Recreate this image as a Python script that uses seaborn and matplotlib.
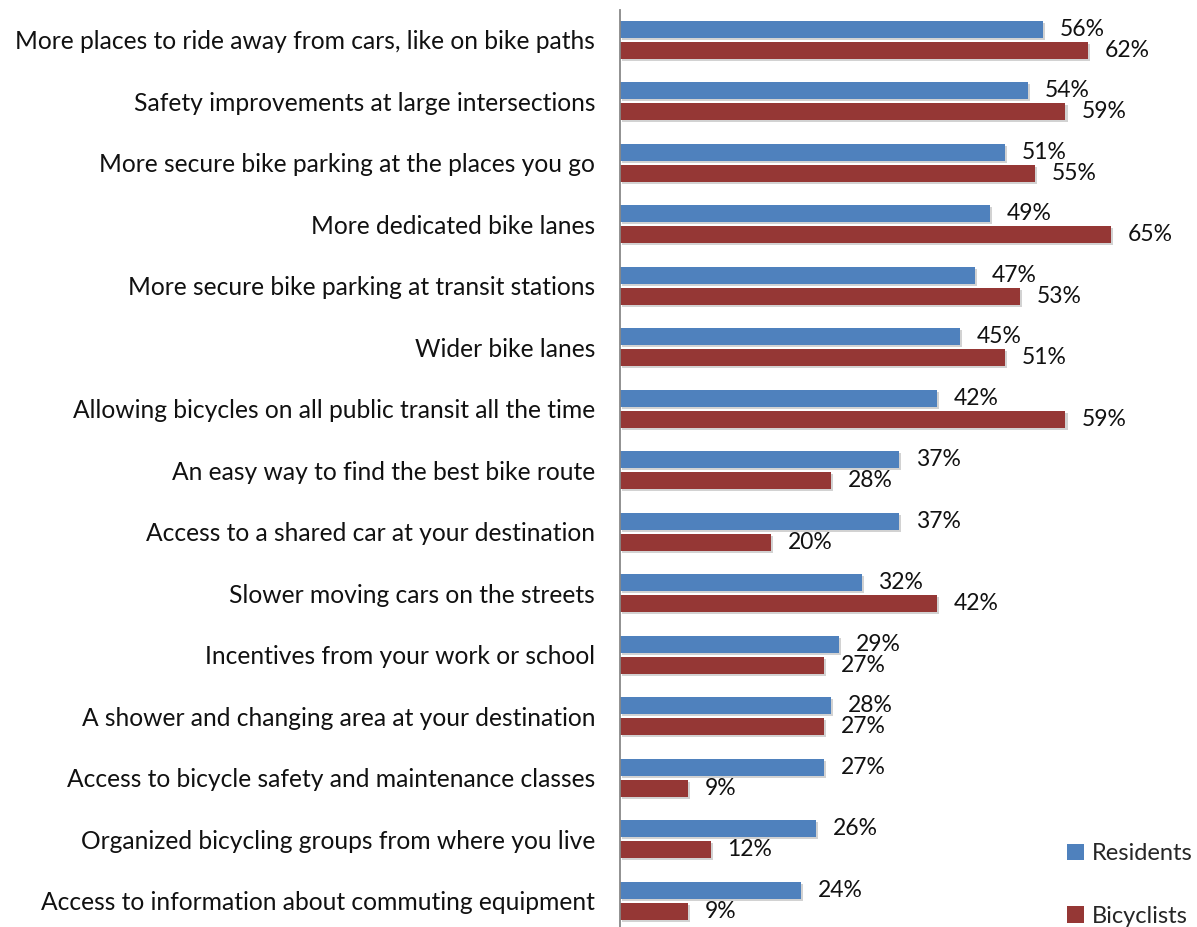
import matplotlib
matplotlib.use("Agg")
import matplotlib.pyplot as plt
import matplotlib.patheffects as pe
from matplotlib.patches import Patch
import seaborn as sns
import pandas as pd

categories = [
    "More places to ride away from cars, like on bike paths",
    "Safety improvements at large intersections",
    "More secure bike parking at the places you go",
    "More dedicated bike lanes",
    "More secure bike parking at transit stations",
    "Wider bike lanes",
    "Allowing bicycles on all public transit all the time",
    "An easy way to find the best bike route",
    "Access to a shared car at your destination",
    "Slower moving cars on the streets",
    "Incentives from your work or school",
    "A shower and changing area at your destination",
    "Access to bicycle safety and maintenance classes",
    "Organized bicycling groups from where you live",
    "Access to information about commuting equipment",
]
residents = [56, 54, 51, 49, 47, 45, 42, 37, 37, 32, 29, 28, 27, 26, 24]
bicyclists = [62, 59, 55, 65, 53, 51, 59, 28, 20, 42, 27, 27, 9, 12, 9]
groups = ["Residents", "Bicyclists"]
colors = {"Residents": "#4F81BD", "Bicyclists": "#953735"}

df = pd.DataFrame({
    "item": categories * 2,
    "group": ["Residents"] * len(categories) + ["Bicyclists"] * len(categories),
    "pct": residents + bicyclists,
})

sns.set_theme(style="white")
plt.rcParams["font.family"] = ["Lato", "DejaVu Sans"]

fig = plt.figure(figsize=(11.97, 9.27), dpi=100)
ax = fig.add_axes([620 / 1197, 0.0, 1 - 620 / 1197, 917 / 927])

sns.barplot(data=df, y="item", x="pct", hue="group", order=categories,
            hue_order=groups, palette=colors, orient="h", width=0.683,
            gap=0.19, saturation=1, linewidth=0, ax=ax, legend=False)

shadow = [pe.SimplePatchShadow(offset=(1.5, -1.5), shadow_rgbFace="#808080", alpha=0.35),
          pe.Normal()]
for cont in ax.containers:
    for bar in cont:
        bar.set_path_effects(shadow)
    vals = [int(round(b.get_width())) for b in cont]
    ax.bar_label(cont, labels=[f"{v}%" for v in vals], padding=12,
                 fontsize=16.5, color="#111111")

ax.set_xlim(0, 577 / 7.55)
ax.set_ylim(14.43, -0.48)
ax.set_xlabel("")
ax.set_ylabel("")
ax.set_xticks([])
ax.tick_params(axis="y", length=0, pad=18, labelsize=17.7, labelcolor="#111111")
for s in ["top", "right", "bottom"]:
    ax.spines[s].set_visible(False)
ax.spines["left"].set_color("#888888")
ax.spines["left"].set_linewidth(1.3)

handles = [Patch(facecolor=colors[g], edgecolor="none") for g in groups]
fig.legend(handles, groups, loc="lower left", bbox_to_anchor=(1058 / 1197, -9 / 927),
           frameon=False, fontsize=17, handlelength=0.7, handleheight=0.7,
           handletextpad=0.35, labelspacing=1.75, borderaxespad=0.0)

fig.savefig("out.png", dpi=100)
